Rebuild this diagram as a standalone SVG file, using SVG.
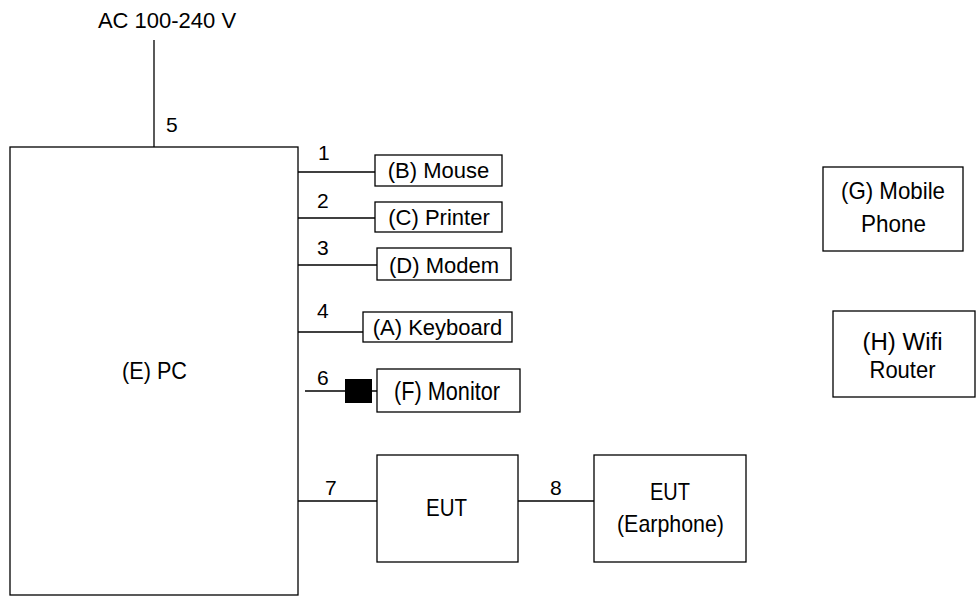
<svg xmlns="http://www.w3.org/2000/svg" width="976" height="596" viewBox="0 0 976 596">
<style>
.b{fill:#fff;stroke:#000;stroke-width:1.3}
.l{stroke:#000;stroke-width:1.3;fill:none}
text{font-family:"Liberation Sans",Arial,sans-serif;font-size:22px;fill:#000}
.c{text-anchor:middle}
.n{font-size:21px}
.g{font-size:24px}
.h{font-size:23px}
</style>
<rect width="976" height="596" fill="#fff"/>
<g id="connectors">
<line class="l" x1="154" y1="40" x2="154" y2="147"/>
<line class="l" x1="298" y1="172" x2="375" y2="172"/>
<line class="l" x1="298" y1="218" x2="375" y2="218"/>
<line class="l" x1="298" y1="265" x2="377" y2="265"/>
<line class="l" x1="298" y1="332" x2="363" y2="332"/>
<line class="l" x1="305" y1="391" x2="377" y2="391"/>
<rect x="345" y="379" width="27" height="24" fill="#000"/>
<line class="l" x1="298" y1="501" x2="377" y2="501"/>
<line class="l" x1="518" y1="501" x2="594" y2="501"/>
<text x="167" y="28" class="c">AC 100-240 V</text>
<text x="166" y="132" class="n">5</text>
<text x="318" y="160" class="n">1</text>
<text x="317" y="208" class="n">2</text>
<text x="317" y="255" class="n">3</text>
<text x="317" y="318" class="n">4</text>
<text x="317" y="385" class="n">6</text>
<text x="325" y="495" class="n">7</text>
<text x="550" y="495" class="n">8</text>
</g>
<g id="pc"><rect class="b" x="10" y="147" width="288" height="448"/><text x="154.5" y="379" class="c g" textLength="65" lengthAdjust="spacingAndGlyphs">(E) PC</text></g>
<g id="mouse"><rect class="b" x="375" y="155" width="127" height="31"/><text x="438.5" y="178" class="c">(B) Mouse</text></g>
<g id="printer"><rect class="b" x="375" y="202" width="127" height="30"/><text x="439" y="225" class="c">(C) Printer</text></g>
<g id="modem"><rect class="b" x="377" y="248" width="134" height="32"/><text x="444" y="273" class="c">(D) Modem</text></g>
<g id="keyboard"><rect class="b" x="363" y="312" width="149" height="30"/><text x="437.5" y="335" class="c">(A) Keyboard</text></g>
<g id="monitor"><rect class="b" x="377" y="369" width="143" height="43"/><text x="447" y="400" class="c" style="font-size:25px" textLength="106" lengthAdjust="spacingAndGlyphs">(F) Monitor</text></g>
<g id="eut"><rect class="b" x="377" y="455" width="141" height="107"/><text x="446.5" y="516" class="c g" textLength="41" lengthAdjust="spacingAndGlyphs">EUT</text></g>
<g id="earphone"><rect class="b" x="594" y="455" width="152" height="107"/><text x="670" y="500" class="c g" textLength="40" lengthAdjust="spacingAndGlyphs">EUT</text><text x="670.5" y="532" class="c g" textLength="107" lengthAdjust="spacingAndGlyphs">(Earphone)</text></g>
<g id="mobile"><rect class="b" x="823" y="167" width="140" height="84"/><text x="893" y="199" class="c g" textLength="104" lengthAdjust="spacingAndGlyphs">(G) Mobile</text><text x="893.5" y="232" class="c g" textLength="65" lengthAdjust="spacingAndGlyphs">Phone</text></g>
<g id="router"><rect class="b" x="833" y="311" width="142" height="86"/><text x="902.5" y="350" class="c h" textLength="80" lengthAdjust="spacingAndGlyphs">(H) Wifi</text><text x="902.5" y="378" class="c h" textLength="66" lengthAdjust="spacingAndGlyphs">Router</text></g>
</svg>
